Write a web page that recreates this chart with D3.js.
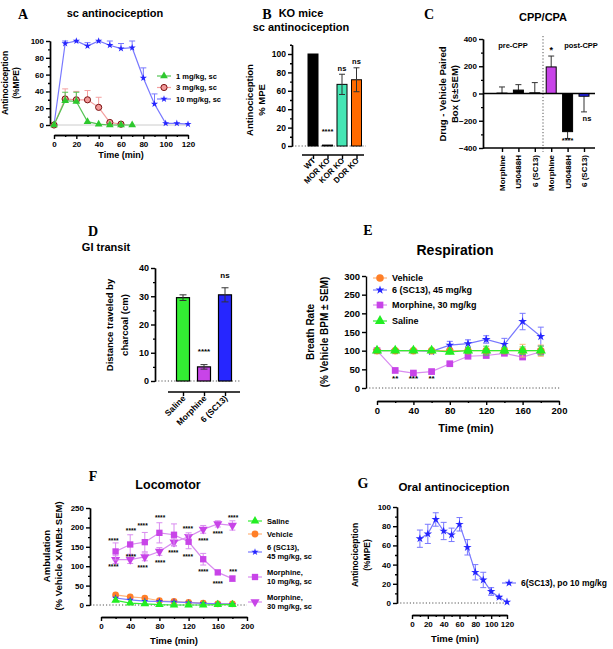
<!DOCTYPE html>
<html>
<head>
<meta charset="utf-8">
<script src="https://cdn.jsdelivr.net/npm/d3@7"></script>
<style>
body { margin: 0; background: #fff; }
text { font-family: "Liberation Sans", Arial, sans-serif; font-weight: bold; }
.letter { font-family: "Liberation Serif", "Times New Roman", serif; font-size: 14px; }
</style>
</head>
<body>
<svg id="fig" width="613" height="649"></svg>
<script>
// A - sc antinociception
var timeA = [0, 10, 20, 30, 40, 50, 60, 70, 80, 90, 100, 110, 120];
var a1 = [0, 29, 28, 4, 1, 0, 0, 0];
var a1Err = [0, 10, 11, 0, 0, 0, 0, 0];
var a3 = [0, 31, 30, 30, 21, 3, 1];
var a3Err = [0, 12, 10, 11, 12, 0, 0];
var a10 = [0, 97, 100, 94, 100, 95, 91, 92, 56, 25, 2, 2, 1];
var a10Err = [0, 3, 0, 4, 0, 5, 6, 8, 12, 12, 0, 0, 0];
var aLegend = ["1 mg/kg, sc", "3 mg/kg, sc", "10 mg/kg, sc"];

// B - KO mice
var koGroups = ["WT", "MOR KO", "KOR KO", "DOR KO"];
var koValues = [100, 1, 67, 72];
var koErr = [0, 0, 11, 13];
var koMarks = ["", "****", "ns", "ns"];

// C - CPP/CPA
var cppGroups = ["Morphine", "U50488H", "6 (SC13)", "Morphine ", "U50488H ", "6 (SC13) "];
var cppValues = [3, 25, 5, 195, -280, -20];
var cppErr = [45, 40, 75, 80, 50, 115];

// D - GI transit
var giGroups = ["Saline", "Morphine", "6 (SC13)"];
var giValues = [29.5, 5, 30.5];
var giErr = [1, 0.8, 2.5];
var giMarks = ["", "****", "ns"];

// E - respiration
var timeE = [0, 20, 40, 60, 80, 100, 120, 140, 160, 180];
var eVehicle = [100, 100, 100, 100, 100, 100, 100, 100, 100, 100];
var eVehicleErr = [0, 0, 0, 0, 0, 4, 6, 5, 17, 15];
var eSc13 = [100, 100, 100, 98, 115, 119, 130, 117, 178, 138];
var eSc13Err = [0, 0, 0, 0, 10, 10, 10, 16, 22, 25];
var eMorphine = [100, 47, 40, 44, 65, 85, 87, 93, 83, 97];
var eMorphineErr = [0, 3, 3, 3, 4, 5, 6, 5, 5, 6];
var eSaline = [100, 100, 100, 100, 97, 100, 100, 100, 100, 100];
var eSalineErr = [0, 0, 0, 0, 4, 8, 12, 8, 10, 12];
var eStarTimes = [20, 40, 60];
var eStars = ["**", "***", "**"];

// F - locomotor
var timeF = [20, 40, 60, 80, 100, 120, 140, 160, 180];
var fSaline = [12, 5, 3, 1, 0, 0, 0, 1, 1];
var fVehicle = [26, 21, 18, 11, 9, 7, 5, 3, 3];
var fSc13 = [18, 13, 10, 9, 8, 6, 4, 3, 2];
var fMorph10 = [138, 156, 162, 186, 181, 163, 118, 84, 68];
var fMorph10Err = [22, 25, 25, 26, 28, 18, 15, 5, 7];
var fMorph30 = [117, 117, 124, 138, 162, 176, 195, 209, 205];
var fMorph30Err = [10, 10, 10, 10, 10, 10, 10, 8, 12];
var fStarTimes = [17, 41, 57, 81, 119, 140, 160, 181, 17, 41, 57, 81, 99, 119, 140, 160, 181];
var fStarValues = [167, 193, 206, 227, 198, 167, 186, 227, 100, 126, 98, 111, 137, 126, 88, 57, 88];
var fStarText = ["****", "****", "****", "****", "****", "****", "****", "****",
                 "****", "****", "****", "****", "****", "****", "****", "****", "***"];

// G - oral antinociception
var timeG = [10, 20, 30, 40, 50, 60, 70, 80, 90, 100, 110, 120];
var gValues = [67, 72, 87, 75, 71, 82, 58, 32, 24, 12, 6, 1];
var gErr = [9, 10, 7, 9, 7, 7, 8, 8, 8, 4, 1, 0];

var BLUE = "#2626ff", BLUE_L = "#7878ff";
var GREEN_L = "#55c455";
var ORANGE = "#ff7f27", ORANGE_L = "#ffb37a";
var PURPLE = "#c844e8", PURPLE_L = "#d98cf0";

var svg = d3.select("#fig");

function styleAxis(g, fs) {
    g.attr("font-size", null).attr("font-family", null);
    g.selectAll("path, line").attr("stroke", "#000").attr("stroke-width", 1.4);
    g.selectAll("text").attr("font-size", fs).attr("fill", "#000");
}

function yAxis(scale, x, major, minor, fs) {
    var g = svg.append("g").attr("transform", "translate(" + x + ",0)");
    g.call(d3.axisLeft(scale).tickValues(major).tickSize(4).tickSizeOuter(0).tickPadding(2));
    if (minor) {
        g.append("g").call(d3.axisLeft(scale).tickValues(minor).tickSize(2).tickSizeOuter(0).tickFormat(""));
    }
    styleAxis(g, fs);
    return g;
}

function xAxis(scale, y, major, minor, fs, noLabels) {
    var ax = d3.axisBottom(scale).tickValues(major).tickSize(4).tickSizeOuter(0).tickPadding(2);
    if (noLabels) ax.tickFormat("");
    var g = svg.append("g").attr("transform", "translate(0," + y + ")");
    g.call(ax);
    if (minor) {
        g.append("g").call(d3.axisBottom(scale).tickValues(minor).tickSize(2).tickSizeOuter(0).tickFormat(""));
    }
    styleAxis(g, fs);
    return g;
}

function text(x, y, str, fs, anchor, cls) {
    return svg.append("text")
        .attr("x", x).attr("y", y)
        .attr("font-size", fs)
        .attr("text-anchor", anchor || "middle")
        .attr("class", cls || null)
        .text(str);
}

function yTitle(x, y, lines, fs, gap) {
    lines.forEach(function(line, i) {
        svg.append("text")
            .attr("transform", "translate(" + (x + i * gap) + "," + y + ") rotate(-90)")
            .attr("font-size", fs)
            .attr("text-anchor", "middle")
            .text(line);
    });
}

function dotted(x1, y1, x2, y2) {
    svg.append("line")
        .attr("x1", x1).attr("y1", y1).attr("x2", x2).attr("y2", y2)
        .attr("stroke", "#555").attr("stroke-width", 1)
        .attr("stroke-dasharray", "1.2,2");
}

function errBar(x, yv, yTop, yBot, color, cap) {
    svg.append("line").attr("x1", x).attr("x2", x).attr("y1", yTop).attr("y2", yBot)
        .attr("stroke", color).attr("stroke-width", 1);
    [yTop, yBot].forEach(function(yy) {
        if (yy === yv) return;
        svg.append("line").attr("x1", x - cap).attr("x2", x + cap).attr("y1", yy).attr("y2", yy)
            .attr("stroke", color).attr("stroke-width", 1);
    });
}

// style: {line, fill, stroke, symbol, size, err, upOnly, rotate}
function series(x, y, times, vals, errs, st) {
    var pts = vals.map(function(v, i) { return [x(times[i]), y(v)]; });
    svg.append("path")
        .attr("d", d3.line()(pts))
        .attr("fill", "none").attr("stroke", st.line).attr("stroke-width", 1.2);
    if (errs) {
        vals.forEach(function(v, i) {
            if (!errs[i]) return;
            var yv = y(v);
            errBar(x(times[i]), yv, y(v + errs[i]), st.upOnly ? yv : y(v - errs[i]), st.err, 3);
        });
    }
    vals.forEach(function(v, i) {
        marker(x(times[i]), y(v), st);
    });
}

function marker(cx, cy, st) {
    var g = svg.append("g")
        .attr("transform", "translate(" + cx + "," + cy + ")" + (st.rotate ? " rotate(180)" : ""));
    if (st.symbol === "dotstar") {
        // small dot with short spikes, like the blue markers
        g.append("path").attr("d", d3.symbol().type(d3.symbolStar).size(st.size)()).attr("fill", st.fill);
        g.append("circle").attr("r", Math.sqrt(st.size) / 4.2).attr("fill", st.fill);
        return;
    }
    g.append("path")
        .attr("d", d3.symbol().type(st.symbol).size(st.size)())
        .attr("fill", st.fill)
        .attr("stroke", st.stroke || "none")
        .attr("stroke-width", st.stroke ? 1 : 0);
}

function legendRow(x, y, st, lines, fs, lh) {
    svg.append("line").attr("x1", x - 7).attr("x2", x + 7).attr("y1", y).attr("y2", y)
        .attr("stroke", st.line).attr("stroke-width", 1.2);
    marker(x, y, st);
    var top = y - (lines.length - 1) * lh / 2 + fs * 0.35;
    lines.forEach(function(l, i) {
        text(x + 12, top + i * lh, l, fs, "start");
    });
}

function range(a, b, s) { return d3.range(a, b + s / 2, s); }

// ---------------- Panel A ----------------
(function() {
    var x = d3.scaleLinear().domain([0, 120]).range([54, 188]);
    var y = d3.scaleLinear().domain([0, 100]).range([125, 41]);
    text(23, 19, "A", 14, "middle", "letter");
    text(115, 17, "sc antinociception", 11);
    yAxis(y, 50, range(0, 100, 20), range(10, 90, 20), 8);
    xAxis(x, 135, range(0, 120, 20), range(10, 110, 20), 8);
    text(121, 158, "Time (min)", 9);
    yTitle(8, 83, ["Antinociception", "(%MPE)"], 8.5, 11);
    svg.append("line").attr("x1", 50).attr("x2", 188).attr("y1", 125).attr("y2", 125)
        .attr("stroke", "#ccc").attr("stroke-width", 1);
    var s1 = {line: GREEN_L, fill: "#2ec82e", symbol: d3.symbolTriangle, size: 26, err: GREEN_L, upOnly: true};
    var s3 = {line: "#f4a0a0", fill: "#f29a9a", stroke: "#7a1010", symbol: d3.symbolCircle, size: 30, err: "#f4a0a0", upOnly: true};
    var s10 = {line: BLUE_L, fill: BLUE, symbol: "dotstar", size: 16, err: BLUE_L, upOnly: true};
    series(x, y, timeA, a10, a10Err, s10);
    series(x, y, timeA, a3, a3Err, s3);
    series(x, y, timeA, a1, a1Err, s1);
    var st = [s1, s3, s10];
    aLegend.forEach(function(l, i) {
        legendRow(164, 76 + i * 11.5, st[i], [l], 7.5, 9);
    });
})();

// ---------------- Panel B ----------------
(function() {
    var x = d3.scalePoint().domain(koGroups).range([313, 356.5]);
    var y = d3.scaleLinear().domain([0, 110]).range([146, 44.8]);
    var colors = ["#000", "#000", "#45e6b4", "#ff6a00"];
    text(267, 19, "B", 14, "middle", "letter");
    text(301, 17, "KO mice", 11);
    text(301, 31, "sc antinociception", 11);
    yTitle(253, 100, ["Antinociception", "% MPE"], 9.5, 12);
    dotted(292, 146, 366, 146);
    koValues.forEach(function(v, i) {
        svg.append("rect")
            .attr("x", x(koGroups[i]) - 5).attr("width", 10)
            .attr("y", y(v)).attr("height", y(0) - y(v))
            .attr("fill", colors[i]).attr("stroke", "#000").attr("stroke-width", 1);
        if (koErr[i]) errBar(x(koGroups[i]), y(v), y(v + koErr[i]), y(v - koErr[i]), "#333", 3);
        if (koMarks[i]) {
            var top = koMarks[i] === "****" ? y(13) : y(v + koErr[i] + 4);
            text(x(koGroups[i]), top, koMarks[i], 7.5).attr("font-weight", "normal");
        }
    });
    yAxis(y, 292, range(0, 100, 20), range(10, 110, 20), 8.5);
    var g = xAxis(x, 155, koGroups, null, 8, true);
    g.select(".domain").attr("d", "M302,0H364");
    koGroups.forEach(function(k) {
        svg.append("text")
            .attr("transform", "translate(" + (x(k) + 3) + ",161) rotate(-45)")
            .attr("text-anchor", "end").attr("font-size", 8).text(k);
    });
})();

// ---------------- Panel C ----------------
(function() {
    var x = d3.scalePoint().domain(cppGroups).range([502, 584]);
    var y = d3.scaleLinear().domain([-400, 400]).range([148, 39]);
    var colors = ["#000", "#000", "#000", "#c844e8", "#000", "#2626ff"];
    text(429, 19, "C", 14, "middle", "letter");
    text(543, 21, "CPP/CPA", 11);
    yTitle(446, 94, ["Drug - Vehicle Paired", "Box (s\u00b1SEM)"], 9.5, 12);
    text(513, 48, "pre-CPP", 7.5).attr("font-weight", "normal");
    text(581, 48, "post-CPP", 7.5).attr("font-weight", "normal");
    dotted(543, 36, 543, 152);
    cppValues.forEach(function(v, i) {
        var cx = x(cppGroups[i]);
        var e = v >= 0 ? v + cppErr[i] : v - cppErr[i];
        errBar(cx, y(v), y(e), y(v), "#333", 3);
        svg.append("rect")
            .attr("x", cx - 5).attr("width", 10)
            .attr("y", Math.min(y(v), y(0))).attr("height", Math.abs(y(0) - y(v)))
            .attr("fill", colors[i]).attr("stroke", "#000").attr("stroke-width", 1);
    });
    svg.append("line").attr("x1", 483).attr("x2", 595).attr("y1", y(0)).attr("y2", y(0))
        .attr("stroke", "#000").attr("stroke-width", 1.4);
    text(x(cppGroups[3]), y(300), "*", 9).attr("font-weight", "normal");
    text(x(cppGroups[4]), y(-365), "****", 7.5).attr("font-weight", "normal");
    text(587, y(-205), "ns", 7.5).attr("font-weight", "normal");
    yAxis(y, 483, range(-400, 400, 200), range(-300, 300, 200), 8);
    var g = xAxis(x, 148, cppGroups, null, 8, true);
    g.select(".domain").attr("d", "M483,0H595");
    cppGroups.forEach(function(k) {
        svg.append("text")
            .attr("transform", "translate(" + (x(k) + 3) + ",155) rotate(-90)")
            .attr("text-anchor", "end").attr("font-size", 8).text(k.trim());
    });
})();

// ---------------- Panel D ----------------
(function() {
    var x = d3.scalePoint().domain(giGroups).range([183, 225]);
    var y = d3.scaleLinear().domain([0, 40]).range([381, 268]);
    var colors = ["#33ee33", "#c844e8", "#2626ff"];
    text(93, 236, "D", 14, "middle", "letter");
    text(106, 251, "GI transit", 11);
    yTitle(113, 325, ["Distance traveled by", "charcoal (cm)"], 9.5, 15);
    dotted(155, 381, 240, 381);
    giValues.forEach(function(v, i) {
        var cx = x(giGroups[i]);
        svg.append("rect")
            .attr("x", cx - 6.5).attr("width", 13)
            .attr("y", y(v)).attr("height", y(0) - y(v))
            .attr("fill", colors[i]).attr("stroke", "#000").attr("stroke-width", 1.2);
        errBar(cx, y(v), y(v + giErr[i]), y(v - giErr[i]), "#333", 3.5);
        if (giMarks[i]) {
            var top = giMarks[i] === "****" ? y(9.5) : y(v + giErr[i] + 3.5);
            text(cx, top, giMarks[i], 8).attr("font-weight", "normal");
        }
    });
    yAxis(y, 155, range(0, 40, 10), range(5, 35, 10), 9);
    var g = xAxis(x, 392, giGroups, null, 9, true);
    g.select(".domain").attr("d", "M168,0H240");
    giGroups.forEach(function(k) {
        svg.append("text")
            .attr("transform", "translate(" + (x(k) + 3) + ",399) rotate(-45)")
            .attr("text-anchor", "end").attr("font-size", 8.5).text(k);
    });
})();

// ---------------- Panel E ----------------
(function() {
    var x = d3.scaleLinear().domain([0, 200]).range([377, 559]);
    var y = d3.scaleLinear().domain([0, 300]).range([388, 276]);
    text(368, 235, "E", 14, "middle", "letter");
    text(455, 255, "Respiration", 14);
    yTitle(314, 332, ["Breath Rate", "(% Vehicle BPM \u00b1 SEM)"], 10, 14);
    dotted(366, 388, 560, 388);
    yAxis(y, 366, range(0, 300, 50), null, 9.5);
    xAxis(x, 401, range(0, 200, 40), range(20, 180, 40), 9.5);
    text(466, 432, "Time (min)", 11);
    var sVeh = {line: ORANGE_L, fill: ORANGE, symbol: d3.symbolCircle, size: 45, err: ORANGE_L};
    var sSc = {line: BLUE_L, fill: BLUE, symbol: "dotstar", size: 24, err: BLUE_L};
    var sMor = {line: PURPLE_L, fill: PURPLE, symbol: d3.symbolSquare, size: 45, err: PURPLE_L};
    var sSal = {line: "#33ee33", fill: "#22ee22", symbol: d3.symbolTriangle, size: 45, err: "#55cc55"};
    series(x, y, timeE, eSc13, eSc13Err, sSc);
    series(x, y, timeE, eMorphine, eMorphineErr, sMor);
    series(x, y, timeE, eVehicle, eVehicleErr, sVeh);
    series(x, y, timeE, eSaline, eSalineErr, sSal);
    eStarTimes.forEach(function(t, i) {
        text(x(t), 381, eStars[i], 8).attr("font-weight", "normal");
    });
    var names = ["Vehicle", "6 (SC13), 45 mg/kg", "Morphine, 30 mg/kg", "Saline"];
    var st = [sVeh, sSc, sMor, sSal];
    var ys = [278, 290, 305, 321];
    names.forEach(function(n, i) {
        legendRow(380, ys[i], st[i], [n], 9, 10);
    });
})();

// ---------------- Panel F ----------------
(function() {
    var x = d3.scaleLinear().domain([0, 200]).range([101, 247]);
    var y = d3.scaleLinear().domain([0, 250]).range([605, 508]);
    text(93, 481, "F", 14, "middle", "letter");
    text(168, 489, "Locomotor", 12.5);
    yTitle(50, 556, ["Ambulation", "(% Vehicle XAMB\u00b1 SEM)"], 9.5, 11.5);
    dotted(90, 605, 247, 605);
    yAxis(y, 90, range(0, 250, 50), range(25, 225, 50), 8);
    xAxis(x, 617, range(0, 200, 40), range(20, 180, 40), 8);
    text(174, 644, "Time (min)", 9.5);
    var sSal = {line: "#33ee33", fill: "#22ee22", symbol: d3.symbolTriangle, size: 32};
    var sVeh = {line: ORANGE_L, fill: ORANGE, symbol: d3.symbolCircle, size: 36};
    var sSc = {line: BLUE_L, fill: BLUE, symbol: "dotstar", size: 16};
    var sM10 = {line: PURPLE_L, fill: PURPLE, symbol: d3.symbolSquare, size: 40, err: PURPLE_L};
    var sM30 = {line: PURPLE_L, fill: PURPLE, symbol: d3.symbolTriangle, size: 36, err: PURPLE_L, rotate: true};
    series(x, y, timeF, fVehicle, null, sVeh);
    series(x, y, timeF, fSc13, null, sSc);
    series(x, y, timeF, fSaline, null, sSal);
    series(x, y, timeF, fMorph30, fMorph30Err, sM30);
    series(x, y, timeF, fMorph10, fMorph10Err, sM10);
    fStarTimes.forEach(function(t, i) {
        text(x(t), y(fStarValues[i]) + 3, fStarText[i], 6.5).attr("font-weight", "normal");
    });
    legendRow(255, 521, sSal, ["Saline"], 7.5, 9);
    legendRow(255, 534, sVeh, ["Vehicle"], 7.5, 9);
    legendRow(255, 552, sSc, ["6 (SC13),", "45 mg/kg, sc"], 7.5, 9);
    legendRow(255, 577, sM10, ["Morphine,", "10 mg/kg, sc"], 7.5, 9);
    legendRow(255, 602, sM30, ["Morphine,", "30 mg/kg, sc"], 7.5, 9);
})();

// ---------------- Panel G ----------------
(function() {
    var x = d3.scaleLinear().domain([0, 120]).range([412, 507]);
    var y = d3.scaleLinear().domain([0, 100]).range([603, 507]);
    text(363, 488, "G", 14, "middle", "letter");
    text(454, 491, "Oral antinociception", 11.5);
    yTitle(358, 555, ["Antinociception", "(%MPE)"], 8.5, 12);
    dotted(397, 603, 507, 603);
    yAxis(y, 397, range(0, 100, 20), range(10, 90, 20), 8);
    xAxis(x, 615, range(0, 120, 20), range(10, 110, 20), 8);
    text(455, 642, "Time (min)", 9.5);
    var sG = {line: BLUE_L, fill: BLUE, symbol: "dotstar", size: 22, err: BLUE_L};
    series(x, y, timeG, gValues, gErr, sG);
    legendRow(509, 583, sG, ["6(SC13), po 10 mg/kg"], 8.5, 9);
})();
</script>
</body>
</html>
